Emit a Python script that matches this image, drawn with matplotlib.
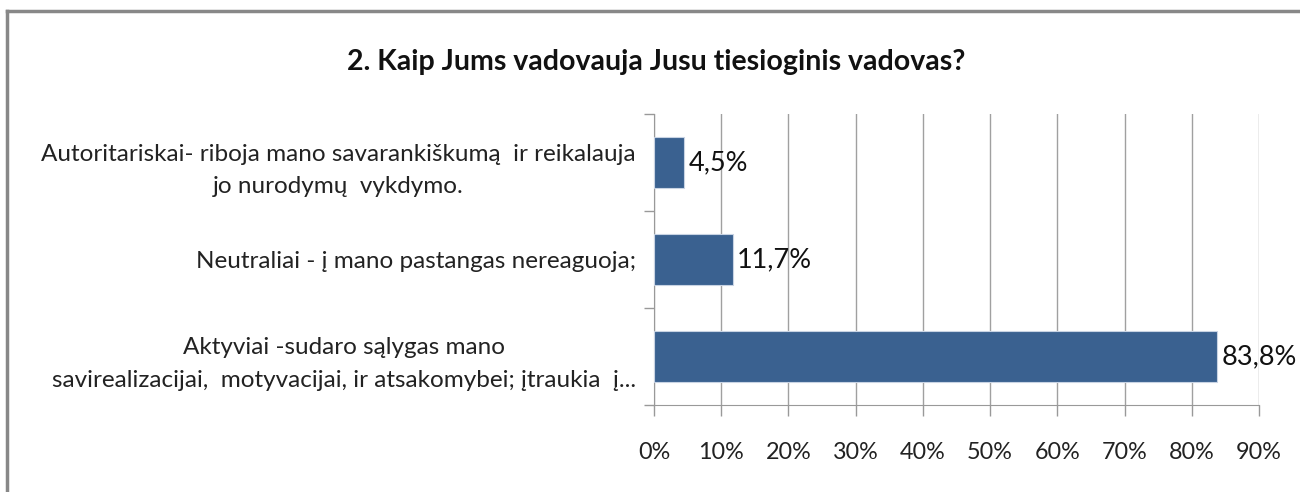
import matplotlib.pyplot as plt
from matplotlib.lines import Line2D

# duomenys
categories = [
    "Autoritariskai- riboja mano savarankiškumą  ir reikalauja\njo nurodymų  vykdymo.",
    "Neutraliai - į mano pastangas nereaguoja;",
    "Aktyviai -sudaro sąlygas mano\nsavirealizacijai,  motyvacijai, ir atsakomybei; įtraukia  į...",
]
values = [4.5, 11.7, 83.8]
value_labels = ["4,5%", "11,7%", "83,8%"]
xticks = [0, 10, 20, 30, 40, 50, 60, 70, 80, 90]

plt.rcParams['font.family'] = ['Lato', 'DejaVu Sans']

fig = plt.figure(figsize=(13, 4.92), dpi=100)
ax = fig.add_axes([0.503, 0.177, 0.4655, 0.591])

ypos = list(range(len(categories)))
ax.barh(ypos, values, height=0.52, color='#3A6190', edgecolor='#c8d3e3', linewidth=0.8, zorder=3)
ax.set_ylim(2.5, -0.5)
ax.set_xlim(0, 90)

ax.set_yticks([-0.5, 0.5, 1.5, 2.5])
ax.set_yticklabels([])
ax.set_yticks(ypos, minor=True)
ax.set_yticklabels(categories, minor=True, fontsize=17.5, color='#222222')
for t in ax.get_yticklabels(minor=True):
    t.set_multialignment('center')
    t.set_linespacing(1.65)
ax.tick_params(axis='y', which='minor', length=0, pad=13)
ax.tick_params(axis='y', which='major', length=7, color='#999999', width=1)

ax.set_xticks(xticks)
ax.set_xticklabels([f"{x}%" for x in xticks], fontsize=16.8, color='#222222')
ax.tick_params(axis='x', length=8, color='#999999', width=1, pad=19)
ax.grid(axis='x', color='#a0a0a0', linewidth=1, zorder=0)

for s in ['top', 'right']:
    ax.spines[s].set_visible(False)
for s in ['left', 'bottom']:
    ax.spines[s].set_color('#999999')

for y, v, lab in zip(ypos, values, value_labels):
    ax.annotate(lab, (v, y), xytext=(3, 0), textcoords='offset points',
                va='center', ha='left', fontsize=19.5, color='#111111', zorder=4)

fig.text(0.505, 0.874, "2. Kaip Jums vadovauja Jusu tiesioginis vadovas?",
         ha='center', va='center', fontsize=20.5, fontweight='bold', color='#111111')

# rėmelis
fig.add_artist(Line2D([0.005, 0.005], [0, 0.977], transform=fig.transFigure, color='#888888', linewidth=2.5))
fig.add_artist(Line2D([0.005, 1.0], [0.977, 0.977], transform=fig.transFigure, color='#888888', linewidth=2.5))

fig.savefig('out.png', dpi=100, facecolor='white')
